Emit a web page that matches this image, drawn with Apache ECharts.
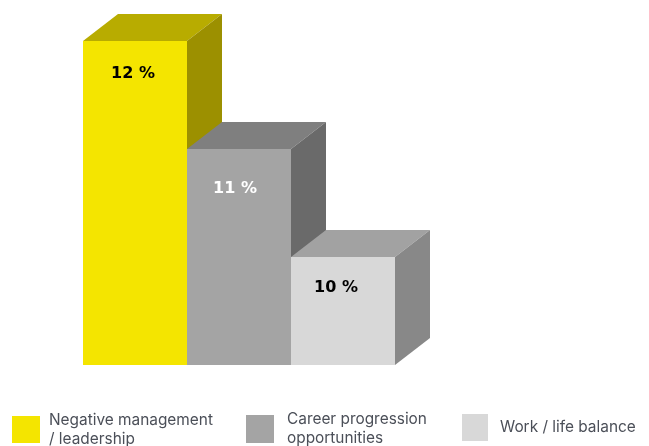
<!DOCTYPE html>
<html>
<head>
<meta charset="utf-8">
<style>html,body{margin:0;padding:0;background:#fff}#chart{width:649px;height:446px}</style>
<script src="https://cdn.jsdelivr.net/npm/echarts@6/dist/echarts.min.js"></script>
</head>
<body>
<div id="chart"></div>
<script>
const categories = ['Negative management\n/ leadership', 'Career progression\nopportunities', 'Work / life balance'];
const values = [12, 11, 10];
const valueLabels = ['12 %', '11 %', '10 %'];
const frontColors = ['#f4e500', '#a4a4a4', '#d8d8d8'];
const topColors = ['#b8ac00', '#7f7f7f', '#a2a2a2'];
const sideColors = ['#9c9000', '#6a6a6a', '#888888'];
const labelColors = ['#000000', '#ffffff', '#000000'];

// Oblique extrusion of each block, in pixels
const DEPTH_X = 35;
const DEPTH_Y = 27;
const AXIS_MIN = 9;

// Where each value label sits relative to the top centre of its block
const labelShift = [[-2, 33], [-4, 40], [-7, 31]];

function blockRenderer(i) {
  return function (params, api) {
    const top = api.coord([i, api.value(1)]);
    const base = api.coord([i, AXIS_MIN]);
    const w = api.size([1, 0])[0];
    const x0 = top[0] - w / 2, x1 = top[0] + w / 2;
    const yt = top[1], yb = base[1];
    return {
      type: 'group',
      children: [
        { type: 'polygon', shape: { points: [[x0, yt], [x1, yt], [x1 + DEPTH_X, yt - DEPTH_Y], [x0 + DEPTH_X, yt - DEPTH_Y]] }, style: { fill: topColors[i] } },
        { type: 'polygon', shape: { points: [[x1, yt], [x1 + DEPTH_X, yt - DEPTH_Y], [x1 + DEPTH_X, yb - DEPTH_Y], [x1, yb]] }, style: { fill: sideColors[i] } },
        { type: 'rect', shape: { x: x0, y: yt, width: w, height: yb - yt }, style: { fill: frontColors[i] } },
        {
          type: 'text', x: top[0] + labelShift[i][0], y: yt + labelShift[i][1],
          style: { text: valueLabels[i], fill: labelColors[i], font: 'bold 16px "DejaVu Sans"', textAlign: 'center', textVerticalAlign: 'middle' }
        }
      ]
    };
  };
}

const legendSpots = [
  { left: 12, top: 409.5, itemWidth: 28, itemHeight: 27, gap: 4 },
  { left: 246, top: 409, itemWidth: 28, itemHeight: 28, gap: 8 },
  { left: 462, top: 414, itemWidth: 26, itemHeight: 27, gap: 7 }
];

const chart = echarts.init(document.getElementById('chart'), null, { renderer: 'canvas' });
chart.setOption({
  animation: false,
  grid: { left: 83, top: 41, width: 312, height: 324 },
  xAxis: { type: 'category', data: categories, show: false },
  yAxis: { type: 'value', min: AXIS_MIN, max: 12, show: false },
  legend: categories.map((name, i) => ({
    left: legendSpots[i].left,
    top: legendSpots[i].top,
    itemWidth: legendSpots[i].itemWidth,
    itemHeight: legendSpots[i].itemHeight,
    padding: 0,
    data: [name],
    icon: 'rect',
    selectedMode: false,
    textStyle: { color: '#4b4f58', fontSize: 15.4, lineHeight: 19, fontFamily: 'Inter', padding: [2, 0, 0, legendSpots[i].gap] }
  })),
  series: categories.map((name, i) => ({
    type: 'custom',
    name,
    coordinateSystem: 'cartesian2d',
    itemStyle: { color: frontColors[i] },
    encode: { x: 0, y: 1 },
    data: [[i, values[i]]],
    renderItem: blockRenderer(i)
  }))
});
</script>
</body>
</html>
